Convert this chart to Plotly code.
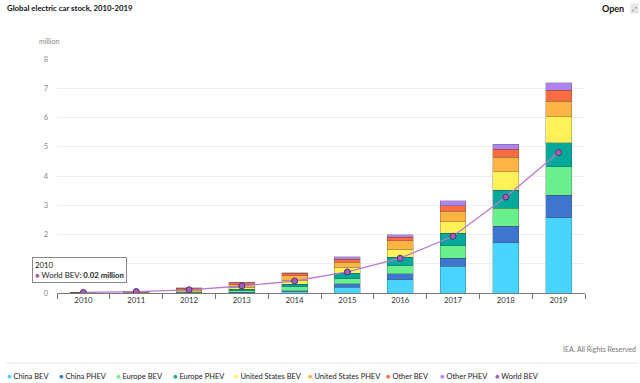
import plotly.graph_objects as go

years = ["2010", "2011", "2012", "2013", "2014", "2015", "2016", "2017", "2018", "2019"]

china_bev = [0.002, 0.005, 0.01, 0.02, 0.05, 0.19, 0.45, 0.91, 1.72, 2.57]
china_phev = [0.0005, 0.001, 0.004, 0.01, 0.03, 0.12, 0.20, 0.28, 0.57, 0.78]
europe_bev = [0.004, 0.01, 0.02, 0.05, 0.13, 0.18, 0.29, 0.43, 0.60, 0.97]
europe_phev = [0.0005, 0.001, 0.01, 0.04, 0.09, 0.18, 0.29, 0.43, 0.63, 0.81]
us_bev = [0.003, 0.013, 0.03, 0.08, 0.13, 0.21, 0.27, 0.39, 0.63, 0.89]
us_phev = [0.0005, 0.008, 0.04, 0.09, 0.16, 0.18, 0.28, 0.36, 0.49, 0.54]
other_bev = [0.01, 0.02, 0.05, 0.06, 0.08, 0.09, 0.13, 0.19, 0.28, 0.38]
other_phev = [0.0005, 0.002, 0.01, 0.02, 0.02, 0.09, 0.08, 0.16, 0.17, 0.24]
world_bev = [0.02, 0.05, 0.11, 0.24, 0.41, 0.72, 1.19, 1.94, 3.28, 4.80]

y_ticks = [0, 1, 2, 3, 4, 5, 6, 7, 8]
y_tick_text = ["0", "", "2", "3", "4", "5", "6", "7", "8"]  # "1" is hidden under the tooltip

series = [
    ("China BEV", china_bev, "#47d4ff"),
    ("China PHEV", china_phev, "#3e76cf"),
    ("Europe BEV", europe_bev, "#69f08d"),
    ("Europe PHEV", europe_phev, "#00a99a"),
    ("United States BEV", us_bev, "#fff157"),
    ("United States PHEV", us_phev, "#ffb444"),
    ("Other BEV", other_bev, "#ff6b42"),
    ("Other PHEV", other_phev, "#ad83ef"),
]
line_name = "World BEV"
line_color = "#a460b8"

FONT = "Lato"

fig = go.Figure()
for name, vals, col in series:
    fig.add_trace(go.Bar(
        x=years, y=vals, name=name, marker_color=col,
        marker_line_color="rgba(60,60,60,0.35)", marker_line_width=0.8,
        showlegend=False,
    ))
fig.add_trace(go.Scatter(
    x=years, y=world_bev, name=line_name, mode="lines+markers",
    line=dict(color="#bb7ad2", width=1.3),
    marker=dict(color=line_color, size=6, line=dict(color="#5e2f6c", width=1)),
    showlegend=False,
))

# Legend built as text annotations with circle glyphs
legend_x = [9, 61, 118, 175, 236, 310, 388, 442, 497]
legend_items = [(n, c) for n, _, c in series] + [(line_name, line_color)]
annotations = []
for (name, col), lx in zip(legend_items, legend_x):
    annotations.append(dict(
        xref="paper", yref="paper", x=(lx - 57) / 528, y=(293 - 376) / 234,
        xanchor="left", yanchor="middle", showarrow=False, xshift=-4,
        text=f"<span style='color:{col}'>●</span> {name}",
        font=dict(family=FONT, size=7.5, color="#222"),
    ))

annotations += [
    dict(xref="paper", yref="paper", x=(5 - 57) / 528, y=(293 - 8) / 234,
         xanchor="left", yanchor="middle", showarrow=False,
         text="<b>Global electric car stock, 2010-2019</b>",
         font=dict(family=FONT, size=7.8, color="#111")),
    dict(xref="paper", yref="paper", x=(626 - 57) / 528, y=(293 - 8) / 234,
         xanchor="right", yanchor="middle", showarrow=False,
         text="<b>Open</b>", font=dict(family=FONT, size=9, color="#111")),
    dict(xref="paper", yref="paper", x=(634 - 57) / 528, y=(293 - 8) / 234,
         xanchor="center", yanchor="middle", showarrow=False,
         text="⤢", bgcolor="#e6e6e6", font=dict(family="DejaVu Sans", size=6, color="#666")),
    dict(xref="paper", yref="paper", x=(61 - 57) / 528, y=(293 - 41) / 234,
         xanchor="right", yanchor="middle", showarrow=False,
         text="million", font=dict(family=FONT, size=7, color="#888")),
    dict(xref="paper", yref="paper", x=(638 - 57) / 528, y=(293 - 349) / 234,
         xanchor="right", yanchor="middle", showarrow=False,
         text="IEA. All Rights Reserved", font=dict(family=FONT, size=7, color="#777")),
    dict(xref="x", yref="y", x=0, y=0.33, xanchor="center", yanchor="bottom",
         xshift=-4, showarrow=False, align="left",
         text="2010<br><span style='color:#a460b8'>●</span> World BEV: <b>0.02 million</b>",
         font=dict(family=FONT, size=7.8, color="#222"),
         bgcolor="white", bordercolor="#888", borderwidth=1, borderpad=2),
]

shapes = [
    dict(type="line", xref="paper", yref="paper",
         x0=(6 - 57) / 528, x1=(638 - 57) / 528,
         y0=(293 - 363) / 234, y1=(293 - 363) / 234,
         line=dict(color="#e8e8e8", width=1)),
]

fig.update_layout(
    barmode="stack",
    bargap=0.51,
    width=640, height=383,
    margin=dict(l=57, r=55, t=59, b=90),
    plot_bgcolor="white", paper_bgcolor="white",
    font=dict(family=FONT, size=7.5, color="#333"),
    annotations=annotations,
    shapes=shapes,
    showlegend=False,
    xaxis=dict(
        type="category", range=[-0.5, 9.5], autorange=False,
        showline=True, linecolor="#777", linewidth=1,
        ticks="outside", tickson="boundaries", ticklen=5, tickcolor="#777",
        tickfont=dict(family=FONT, size=7.8, color="#333"), showgrid=False,
    ),
    yaxis=dict(
        range=[0, 8], autorange=False, tickvals=y_ticks, ticktext=y_tick_text,
        showgrid=True, gridcolor="#efefef", gridwidth=1,
        zeroline=False, showline=False, ticks="", ticklabelstandoff=8,
        tickfont=dict(family=FONT, size=7.5, color="#888"),
    ),
)

fig.write_html("out.html", config={"displayModeBar": False},
               post_script="document.body.style.margin='0';")
